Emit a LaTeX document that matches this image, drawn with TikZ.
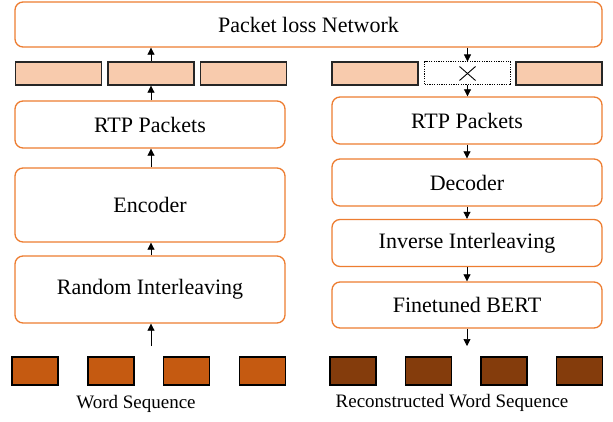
\documentclass[tikz,border=0pt]{standalone}
\usepackage{fontspec}
\setmainfont{Liberation Serif}
\usepackage{tikz}
\usetikzlibrary{arrows.meta, positioning, calc}
\definecolor{FrameOrange}{HTML}{ED7D31}
\definecolor{PacketPeach}{HTML}{F8CBAD}
\definecolor{WordRust}{HTML}{C55A11}
\definecolor{WordBrown}{HTML}{843C0C}
\tikzset{
  % Box styles
  stagebox/.style={rectangle, rounded corners=8pt, draw=FrameOrange, line width=1.3pt, fill=white, minimum width=270pt, minimum height=47pt, font=\fontsize{22}{24}\selectfont, align=center, inner sep=0pt},
  packetbox/.style={rectangle, draw=black!85, fill=PacketPeach, line width=1.3pt, minimum width=86pt, minimum height=23pt, inner sep=0pt},
  lostbox/.style={rectangle, draw=black, fill=white, line width=1pt, dash pattern=on 1.2pt off 1.2pt, minimum width=86pt, minimum height=23pt, inner sep=0pt},
  wordbox/.style={rectangle, draw=black, line width=1.3pt, minimum width=46pt, minimum height=28pt, inner sep=0pt},
  caption/.style={font=\fontsize{19}{21}\selectfont, inner sep=0pt},
  % Arrow styles
  arrow/.style={-{Triangle[length=7pt,width=7pt]}, line width=0.7pt, black}
}
\begin{document}
\begin{tikzpicture}[x=1pt, y=-1pt]
  \useasboundingbox (0,0) rectangle (613,422);

  % Network
  \node[stagebox, minimum width=587pt, minimum height=45pt] (net) at (308.5,24.5) {Packet loss Network};

  % Sender side
  \node[packetbox] (lp1) at (58.5,73.5) {};
  \node[packetbox] (lp2) at (151,73.5) {};
  \node[packetbox] (lp3) at (243.5,73.5) {};
  \node[stagebox] (lrtp) at (150,124.5) {RTP Packets};
  \node[stagebox, minimum height=74pt] (enc) at (150,205) {Encoder};
  \node[stagebox, minimum height=67pt] (rint) at (150,289.5) {Random Interleaving};

  % Receiver side
  \node[packetbox] (rp1) at (375,73.5) {};
  \node[lostbox] (rp2) at (467.5,73.5) {};
  \node[packetbox] (rp3) at (559,73.5) {};
  \draw[line width=0.9pt] ($(rp2.center)+(-8,-7)$) -- ($(rp2.center)+(8,7)$);
  \draw[line width=0.9pt] ($(rp2.center)+(-8,7)$) -- ($(rp2.center)+(8,-7)$);
  \node[stagebox] (rrtp) at (467,120.5) {RTP Packets};
  \node[stagebox] (dec) at (467,182.5) {Decoder};
  \node[stagebox] (inv) at (467,243) {Inverse Interleaving};
  \node[stagebox, minimum height=46pt] (bert) at (467,305) {Finetuned BERT};

  % Word sequences
  \node[wordbox, fill=WordRust] (w1) at (35,371) {};
  \node[wordbox, fill=WordRust] (w2) at (111,371) {};
  \node[wordbox, fill=WordRust] (w3) at (186.5,371) {};
  \node[wordbox, fill=WordRust] (w4) at (262.5,371) {};
  \node[wordbox, fill=WordBrown] (r1) at (353,371) {};
  \node[wordbox, fill=WordBrown] (r2) at (428.5,371) {};
  \node[wordbox, fill=WordBrown] (r3) at (504,371) {};
  \node[wordbox, fill=WordBrown] (r4) at (579.5,371) {};
  \node[caption] (wlabel) at (136,404) {Word Sequence};
  \node[caption] (rlabel) at (452,403) {Reconstructed Word Sequence};

  % Connectors
  \coordinate (lin) at (151,346);
  \coordinate (rout) at (467,346);
  \draw[arrow] (lin) -- (lin |- rint.south);
  \draw[arrow] (rint.north -| lin) -- (enc.south -| lin);
  \draw[arrow] (enc.north -| lin) -- (lrtp.south -| lin);
  \draw[arrow] (lrtp.north -| lin) -- (lp2.south);
  \draw[arrow] (lp2.north) -- (lp2.north |- net.south);
  \draw[arrow] (rp2.north |- net.south) -- (rp2.north);
  \draw[arrow] (rp2.south) -- (rp2.south |- rrtp.north);
  \draw[arrow] (rrtp.south) -- (dec.north);
  \draw[arrow] (dec.south) -- (inv.north);
  \draw[arrow] (inv.south) -- (bert.north);
  \draw[arrow] (bert.south) -- (rout);
\end{tikzpicture}
\end{document}
